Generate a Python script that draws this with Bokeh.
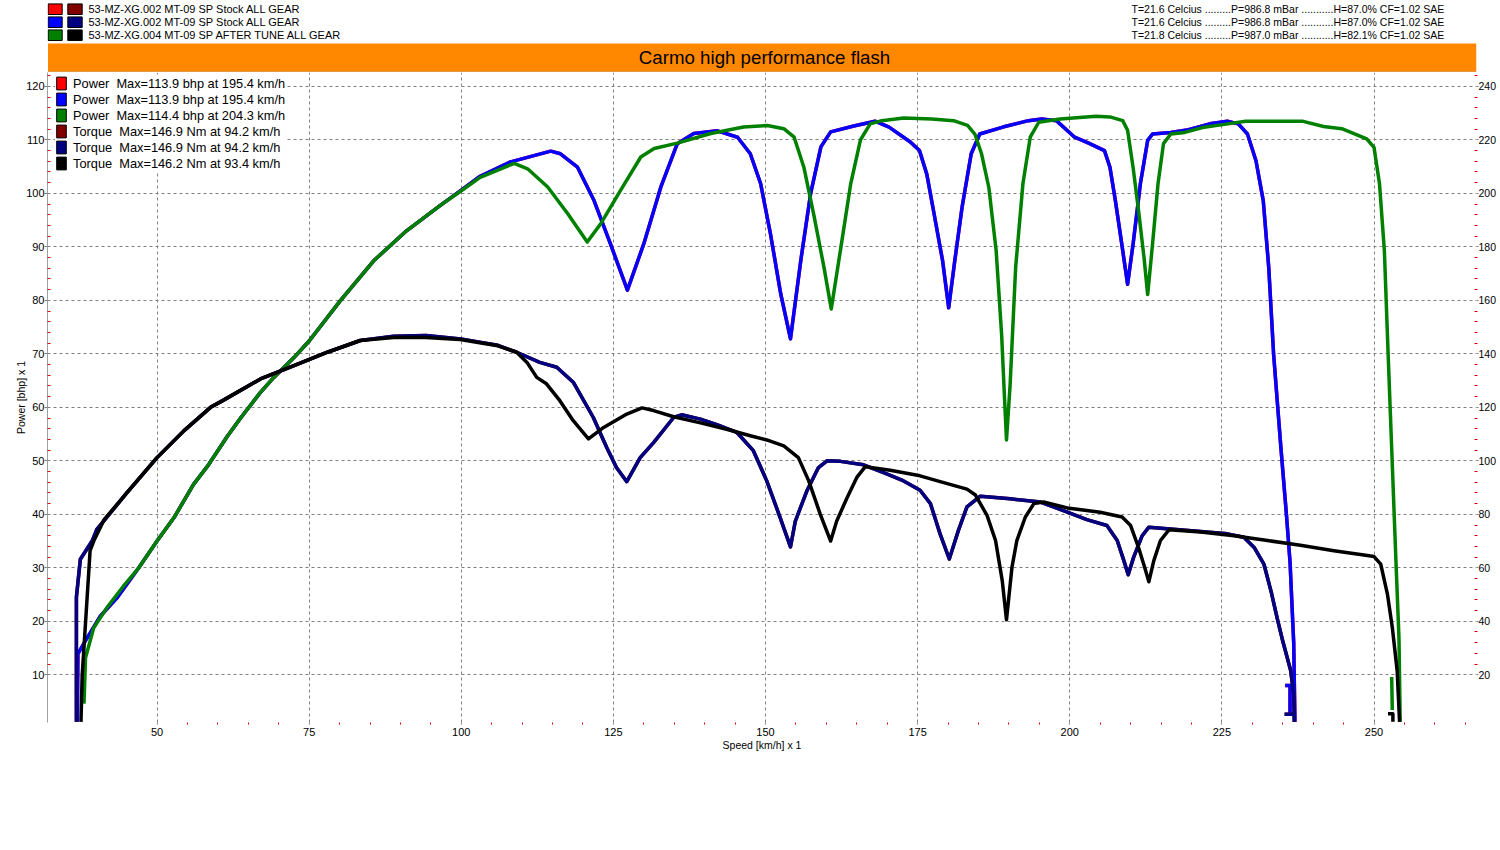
import numpy as np
from bokeh.plotting import figure
from bokeh.models import Range1d, LinearAxis, FixedTicker, Legend, LegendItem
from bokeh.layouts import column
from bokeh.core.properties import value
from bokeh.embed import file_html
from bokeh.resources import INLINE

NaN = float("nan")
FONT = "Liberation Sans"

# ---------------- axes ----------------
SPEED_MIN, SPEED_MAX = 32.0, 266.84
POWER_MIN, POWER_MAX = 1.08, 122.6
TORQUE_MIN, TORQUE_MAX = 2.16, 245.2

speed_ticks = [50, 75, 100, 125, 150, 175, 200, 225, 250]
speed_minor = [v for v in range(55, 270, 5) if v % 25]
power_ticks = list(range(10, 121, 10))
power_minor = [v for v in range(12, 123, 2) if v % 10]
torque_ticks = list(range(20, 241, 20))
torque_minor = [v for v in range(24, 245, 4) if v % 20]

# ---------------- run descriptions ----------------
run_names = ["53-MZ-XG.002 MT-09 SP   Stock ALL GEAR",
             "53-MZ-XG.002 MT-09 SP   Stock ALL GEAR",
             "53-MZ-XG.004 MT-09 SP   AFTER TUNE ALL GEAR"]
run_conditions = ["T=21.6 Celcius .........P=986.8 mBar ...........H=87.0% CF=1.02 SAE",
                  "T=21.6 Celcius .........P=986.8 mBar ...........H=87.0% CF=1.02 SAE",
                  "T=21.8 Celcius .........P=987.0 mBar ...........H=82.1% CF=1.02 SAE"]
power_colors = ["#ff0000", "#0000ff", "#008000"]
torque_colors = ["#800000", "#000080", "#000000"]
legend_labels = ["Power  Max=113.9 bhp at 195.4 km/h",
                 "Power  Max=113.9 bhp at 195.4 km/h",
                 "Power  Max=114.4 bhp at 204.3 km/h",
                 "Torque  Max=146.9 Nm at 94.2 km/h",
                 "Torque  Max=146.9 Nm at 94.2 km/h",
                 "Torque  Max=146.2 Nm at 93.4 km/h"]
title_text = "Carmo high performance flash"

# ---------------- data: (speed km/h, power bhp) ----------------
stock_power = [
    (36.9, 1.2), (36.95, 8.0), (37.0, 13.9), (38.25, 16.4), (40.7, 21.0), (43.5, 24.5),
    (47.0, 30.0), (50.0, 35.0), (52.8, 39.4), (56.0, 45.6), (58.3, 49.0), (61.5, 54.5),
    (63.8, 58.1), (67.0, 62.8), (69.2, 65.6), (72.5, 69.3), (75.0, 72.4), (80.1, 79.9),
    (85.6, 87.4), (91.0, 93.0), (96.5, 97.7), (100.0, 100.6), (103.1, 103.2), (108.1, 105.9),
    (114.7, 107.9), (116.3, 107.4), (119.1, 104.9), (121.8, 98.7), (124.5, 90.6), (127.3, 81.9),
    (130.0, 90.6), (132.8, 101.2), (135.5, 109.3), (138.2, 111.2), (142.1, 111.7), (145.4, 110.5),
    (147.5, 107.4), (149.2, 101.8), (150.8, 92.5), (152.5, 81.2), (154.1, 72.8), (155.8, 87.5),
    (157.4, 99.9), (159.1, 108.7), (160.7, 111.5), (164.5, 112.6), (168.0, 113.5), (170.3, 112.4),
    (173.8, 109.6), (175.3, 108.0), (176.5, 103.6), (177.6, 96.8), (179.1, 87.4), (180.1, 78.6),
    (181.1, 87.4), (182.3, 97.4), (183.8, 107.4), (185.2, 111.1), (189.0, 112.4), (193.2, 113.6),
    (195.4, 113.9), (197.8, 113.6), (200.8, 110.5), (203.1, 109.4), (205.7, 108.0), (206.6, 104.9),
    (207.5, 98.6), (208.7, 89.3), (209.5, 83.0), (210.4, 90.5), (211.6, 101.8), (212.8, 109.9),
    (213.6, 111.1), (216.6, 111.4), (219.5, 111.9), (223.0, 113.0), (225.9, 113.5), (227.7, 113.0),
    (229.2, 111.1), (230.6, 106.1), (231.8, 98.6), (232.7, 86.1), (233.5, 69.9), (234.1, 61.1),
    (234.7, 52.4), (235.6, 40.0), (236.2, 31.0), (236.8, 16.0), (237.0, 1.2),
    (NaN, NaN), (235.4, 8.0), (236.2, 8.0), (236.2, 2.6)]

tuned_power = [
    (38.0, 4.6), (38.25, 13.2), (39.6, 18.8), (41.8, 22.6), (44.5, 26.6), (47.0, 30.0),
    (50.0, 35.0), (52.8, 39.4), (56.0, 45.6), (58.3, 49.0), (61.5, 54.5), (63.8, 58.1),
    (67.0, 62.8), (69.2, 65.6), (72.5, 69.3), (75.0, 72.4), (80.1, 79.9), (85.6, 87.4),
    (91.0, 93.0), (96.5, 97.7), (100.0, 100.5), (103.1, 103.0), (108.7, 105.6), (110.9, 104.6),
    (114.2, 101.2), (117.5, 96.2), (120.7, 90.9), (122.9, 94.3), (126.2, 100.6), (129.5, 106.8),
    (131.7, 108.4), (135.5, 109.4), (141.0, 111.2), (146.4, 112.4), (150.3, 112.7), (153.0, 112.1),
    (154.7, 110.5), (156.3, 104.9), (158.0, 95.6), (159.6, 86.2), (160.8, 78.4), (162.3, 89.3),
    (164.0, 101.8), (165.6, 110.0), (167.2, 113.0), (169.1, 113.6), (172.7, 114.1), (177.3, 113.9),
    (180.9, 113.6), (183.2, 112.7), (184.4, 111.1), (185.5, 107.4), (186.7, 101.1), (187.9, 89.3),
    (188.8, 73.6), (189.3, 61.1), (189.6, 53.9), (190.2, 64.3), (191.1, 86.1), (192.3, 101.8),
    (193.5, 110.5), (194.9, 113.3), (198.4, 113.9), (204.3, 114.4), (206.6, 114.3), (208.7, 113.6),
    (209.5, 111.8), (210.4, 104.9), (211.3, 96.8), (212.2, 88.0), (212.8, 81.1), (213.6, 90.5),
    (214.5, 101.8), (215.4, 109.3), (216.6, 111.1), (218.9, 111.4), (221.8, 112.3), (225.4, 112.9),
    (228.9, 113.5), (238.2, 113.5), (241.7, 112.5), (244.7, 112.1), (248.8, 110.2), (250.0, 108.6),
    (250.9, 101.8), (251.7, 89.3), (252.3, 70.5), (252.9, 52.4), (253.6, 31.3), (254.1, 16.9),
    (254.3, 1.2), (NaN, NaN), (252.9, 9.6), (253.0, 3.4)]

# ---------------- data: (speed km/h, torque Nm) ----------------
stock_torque = [
    (36.75, 2.4), (36.75, 49.0), (37.4, 63.2), (39.35, 70.1), (40.1, 74.4), (41.5, 78.2),
    (45.1, 88.2), (50.0, 101.2), (54.4, 111.2), (58.8, 120.0), (61.0, 122.8), (67.0, 130.6),
    (72.5, 135.6), (78.0, 140.6), (83.4, 145.0), (88.9, 146.6), (94.2, 146.9), (99.9, 145.6),
    (103.5, 144.2), (106.0, 143.2), (109.1, 140.6), (112.9, 136.8), (115.7, 135.0), (118.4, 129.4),
    (121.7, 116.2), (123.9, 105.0), (125.5, 97.5), (127.2, 92.2), (129.4, 101.2), (131.6, 106.8),
    (134.9, 116.2), (136.2, 117.2), (139.3, 115.6), (142.0, 113.5), (145.3, 110.6), (148.0, 103.8),
    (150.2, 92.5), (152.4, 78.8), (154.1, 67.8), (154.9, 77.5), (156.8, 88.8), (158.7, 97.5),
    (160.1, 100.0), (162.3, 99.8), (166.1, 98.5), (169.4, 95.6), (172.4, 92.8), (175.4, 89.0),
    (177.1, 84.0), (178.7, 72.6), (180.2, 63.3), (181.7, 74.0), (183.1, 82.8), (185.3, 86.8),
    (190.2, 85.8), (195.2, 84.6), (199.6, 80.8), (202.8, 78.0), (206.1, 75.8), (207.8, 70.2),
    (208.9, 62.6), (209.6, 57.4), (210.5, 64.0), (211.9, 72.0), (213.0, 75.2), (216.0, 74.6),
    (221.5, 73.6), (225.9, 72.7), (228.6, 71.4), (230.3, 67.6), (231.9, 61.4), (233.1, 51.0),
    (234.1, 41.0), (234.9, 33.5), (236.3, 21.6), (236.8, 12.8), (236.9, 2.4),
    (NaN, NaN), (235.3, 5.2), (237.0, 5.2)]

tuned_torque = [
    (37.5, 2.4), (37.7, 20.0), (38.0, 30.4), (39.0, 66.4), (39.6, 70.0), (41.3, 78.0),
    (45.1, 88.2), (50.0, 101.2), (54.4, 111.2), (58.8, 120.0), (61.0, 122.8), (67.0, 130.6),
    (72.5, 135.6), (78.0, 140.6), (83.4, 145.0), (88.9, 146.1), (93.4, 146.2), (99.8, 145.4),
    (103.5, 144.0), (106.0, 143.0), (109.1, 140.6), (110.8, 136.8), (112.4, 131.2), (114.0, 128.8),
    (116.2, 122.5), (118.4, 115.0), (120.9, 108.2), (123.4, 112.5), (127.2, 117.5), (129.7, 119.8),
    (131.6, 118.8), (134.9, 116.5), (139.3, 114.2), (143.6, 111.8), (147.5, 109.4), (150.2, 107.8),
    (153.0, 105.6), (155.4, 101.2), (157.1, 92.5), (159.0, 80.0), (160.7, 70.0), (161.7, 77.5),
    (163.4, 86.2), (165.0, 93.8), (166.4, 97.8), (170.5, 96.5), (175.4, 94.4), (178.7, 92.2),
    (183.1, 89.4), (184.5, 87.2), (186.4, 79.6), (187.8, 70.2), (188.9, 55.2), (189.6, 40.6),
    (190.5, 60.2), (191.3, 70.2), (192.7, 79.0), (194.1, 84.0), (195.7, 84.6), (199.6, 82.4),
    (205.0, 80.8), (208.6, 79.0), (210.0, 75.8), (211.3, 67.6), (212.3, 60.2), (213.0, 54.8),
    (213.8, 62.6), (214.9, 70.2), (216.3, 74.2), (221.5, 73.4), (227.0, 72.0), (232.5, 70.2),
    (237.9, 68.4), (243.4, 66.4), (248.9, 64.6), (250.0, 64.2), (251.1, 61.4), (252.2, 50.2),
    (253.0, 37.8), (253.8, 21.6), (254.2, 2.4), (NaN, NaN), (252.3, 5.4), (253.1, 5.4), (253.1, 2.4)]


def split(pairs):
    a = np.array(pairs, dtype=float)
    return a[:, 0], a[:, 1]


# run 1 (red) and run 2 (blue) are the same stock file
power_runs = [stock_power, stock_power, tuned_power]
torque_runs = [stock_torque, stock_torque, tuned_torque]

# layout (pixels)
FIG_W = 1500
HDR_H = 72
MAIN_H = 770
BORDER_L, BORDER_R, BORDER_B = 47, 24, 120
FRAME_L, FRAME_R = BORDER_L, FIG_W - BORDER_R

# ================= header (run list + title bar) =================
# plot frames of a column are aligned, so the header frame spans FRAME_L..FRAME_R
hdr = figure(width=FIG_W, height=HDR_H, x_range=Range1d(FRAME_L, FRAME_R),
             y_range=Range1d(HDR_H, 0),
             output_backend="svg", toolbar_location=None, title=None,
             x_axis_location=None, y_axis_location=None, min_border=0,
             min_border_left=BORDER_L, min_border_right=BORDER_R,
             min_border_top=0, min_border_bottom=0,
             outline_line_color=None, background_fill_color="white",
             border_fill_color="white")
hdr.grid.visible = False

row_y = [8.7, 21.7, 34.7]
hdr.quad(left=[47.7] * 3, right=[61.7] * 3, top=[y - 5.3 for y in row_y],
         bottom=[y + 5.3 for y in row_y], fill_color=power_colors, line_color="black")
hdr.quad(left=[67.3] * 3, right=[81.7] * 3, top=[y - 5.3 for y in row_y],
         bottom=[y + 5.3 for y in row_y], fill_color=torque_colors, line_color="black")
hdr.text(x=[88] * 3, y=row_y, text=run_names, text_font=value(FONT),
         text_font_size=value("11px"), text_baseline="middle", text_color="black")
hdr.text(x=[1131] * 3, y=row_y, text=run_conditions, text_font=value(FONT),
         text_font_size=value("10.5px"), text_baseline="middle", text_color="black")
hdr.quad(left=[FRAME_L + 0.5], right=[FRAME_R], top=[43], bottom=[71.5],
         fill_color="#ff8800", line_color=None)
hdr.segment(x0=[FRAME_L + 0.5], y0=[71.5], x1=[FRAME_R], y1=[71.5],
            line_color="#c8a878", line_width=1)
hdr.text(x=[764], y=[57], text=[title_text], text_font=value(FONT),
         text_font_size=value("18.7px"), text_align="center", text_baseline="middle",
         text_color="black")

# ================= main chart =================
p = figure(width=FIG_W, height=MAIN_H,
           x_range=Range1d(SPEED_MIN, SPEED_MAX), y_range=Range1d(POWER_MIN, POWER_MAX),
           output_backend="svg", toolbar_location=None, title=None,
           min_border_left=BORDER_L, min_border_right=BORDER_R, min_border_top=0,
           min_border_bottom=BORDER_B,
           outline_line_color=None, background_fill_color="white", border_fill_color="white")
p.extra_y_ranges = {"torque": Range1d(TORQUE_MIN, TORQUE_MAX)}

xt = FixedTicker(ticks=speed_ticks, minor_ticks=speed_minor)
yt = FixedTicker(ticks=power_ticks, minor_ticks=power_minor)
p.xaxis.ticker = xt
p.yaxis.ticker = yt
p.xgrid.ticker = xt
p.ygrid.ticker = yt
for g in (p.xgrid, p.ygrid):
    g.grid_line_color = "#808080"
    g.grid_line_dash = "3 3"
    g.grid_line_width = 1

for ax in (p.xaxis, p.yaxis):
    ax.major_label_text_font = FONT
    ax.major_label_text_font_size = "11px"
    ax.major_label_text_color = "black"
    ax.axis_label_text_font = FONT
    ax.axis_label_text_font_size = "10.5px"
    ax.axis_label_text_font_style = "normal"
    ax.axis_label_text_color = "black"
    ax.major_tick_line_color = "#808080"
    ax.minor_tick_line_color = "#dd0000"
    ax.major_tick_in = 0

p.xaxis.axis_label = "Speed [km/h] x 1"
p.xaxis.axis_line_color = None
p.xaxis.major_tick_out = 2
p.xaxis.minor_tick_out = 2
p.xaxis.minor_tick_in = 0
p.xaxis.major_label_standoff = 3
p.xaxis.axis_label_standoff = 0

p.yaxis.axis_label = "Power [bhp] x 1"
p.yaxis.axis_line_color = "#a0a0a0"
p.yaxis.major_tick_out = 3
p.yaxis.minor_tick_in = 3
p.yaxis.minor_tick_out = 0
p.yaxis.major_label_standoff = 0
p.yaxis.axis_label_standoff = -4

raxis = LinearAxis(y_range_name="torque",
                   ticker=FixedTicker(ticks=torque_ticks, minor_ticks=torque_minor),
                   axis_line_color=None, major_tick_out=2, major_tick_in=0,
                   major_tick_line_color="#808080", minor_tick_in=2, minor_tick_out=1,
                   minor_tick_line_color="#dd0000", major_label_standoff=0,
                   major_label_text_font=FONT, major_label_text_font_size="10.5px",
                   major_label_text_color="black")
p.add_layout(raxis, "right")

# curves: power first, torque on top
for color, run in zip(power_colors, power_runs):
    sx, sy = split(run)
    p.line(sx, sy, line_color=color, line_width=3.5, line_join="round")
for color, run in zip(torque_colors, torque_runs):
    sx, sy = split(run)
    p.line(sx, sy, line_color=color, line_width=3.5, line_join="round",
           y_range_name="torque")

# legend with colour swatches (swatch renderers hold no visible point)
items = []
for color, label in zip(power_colors + torque_colors, legend_labels):
    r = p.quad(left=[NaN], right=[NaN], top=[NaN], bottom=[NaN],
               fill_color=color, line_color="black")
    items.append(LegendItem(label=label, renderers=[r]))
frame_h = MAIN_H - BORDER_B
legend = Legend(items=items, location=(8, frame_h - 99), margin=0, padding=3, spacing=0,
                label_height=16, glyph_height=16, glyph_width=12, label_standoff=6,
                label_text_font=FONT, label_text_font_size="12.8px",
                label_text_color="black", border_line_color=None,
                background_fill_color="white", background_fill_alpha=1.0)
p.add_layout(legend)

layout = column(hdr, p, spacing=0)
open("out.html", "w").write(file_html(layout, INLINE, title="Carmo high performance flash"))
